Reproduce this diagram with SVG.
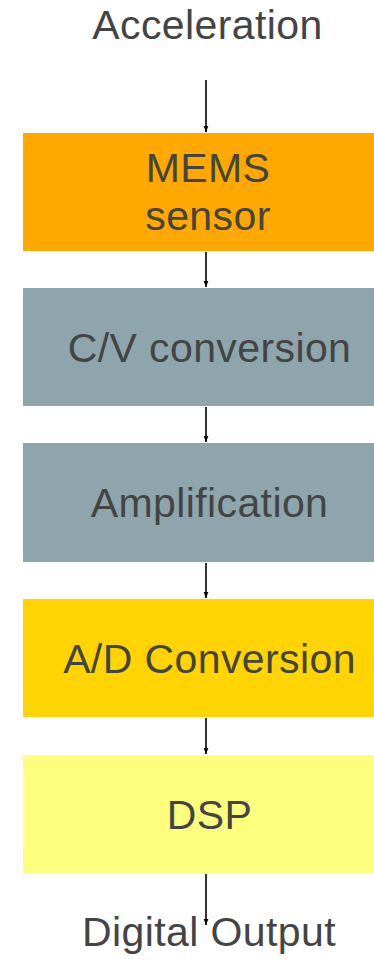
<svg xmlns="http://www.w3.org/2000/svg" width="374" height="965" viewBox="0 0 374 965">
<style>
text{font-family:"Liberation Sans",Arial,Helvetica,sans-serif;font-size:41px;letter-spacing:0.4px;fill:#444444;text-anchor:middle}
.c{stroke:#000;stroke-width:1.6;fill:none}
</style>
<defs>
<marker id="ah" viewBox="0 0 10 10" refX="10" refY="5" markerWidth="4" markerHeight="4" orient="auto" markerUnits="strokeWidth">
<path d="M0,1 L10,5 L0,9 Z" fill="#000"/>
</marker>
</defs>
<rect width="374" height="965" fill="#fff"/>
<g id="acceleration"><text x="207.5" y="39">Acceleration</text></g>
<g id="mems"><rect x="23" y="133" width="360" height="118" fill="#FFA800"/><text x="208" y="182">MEMS</text><text x="208" y="230">sensor</text></g>
<g id="cv"><rect x="23" y="288" width="360" height="118" fill="#8FA5AD"/><text x="209.5" y="362">C/V conversion</text></g>
<g id="amp"><rect x="23" y="443" width="360" height="119" fill="#8FA5AD"/><text x="209.5" y="517">Amplification</text></g>
<g id="ad"><rect x="23" y="599" width="360" height="118" fill="#FFD400"/><text x="209.5" y="673">A/D Conversion</text></g>
<g id="dsp"><rect x="23" y="755" width="360" height="118" fill="#FFFF7F"/><text x="209.5" y="829">DSP</text></g>
<g id="output"><text x="209" y="946">Digital Output</text></g>
<g id="connectors">
<line class="c" x1="206" y1="80" x2="206" y2="132" marker-end="url(#ah)"/>
<line class="c" x1="206" y1="252" x2="206" y2="287" marker-end="url(#ah)"/>
<line class="c" x1="206" y1="407" x2="206" y2="442" marker-end="url(#ah)"/>
<line class="c" x1="206" y1="563" x2="206" y2="598" marker-end="url(#ah)"/>
<line class="c" x1="206" y1="718" x2="206" y2="754" marker-end="url(#ah)"/>
<line class="c" x1="206" y1="874" x2="206" y2="925" marker-end="url(#ah)"/>
</g>
</svg>
